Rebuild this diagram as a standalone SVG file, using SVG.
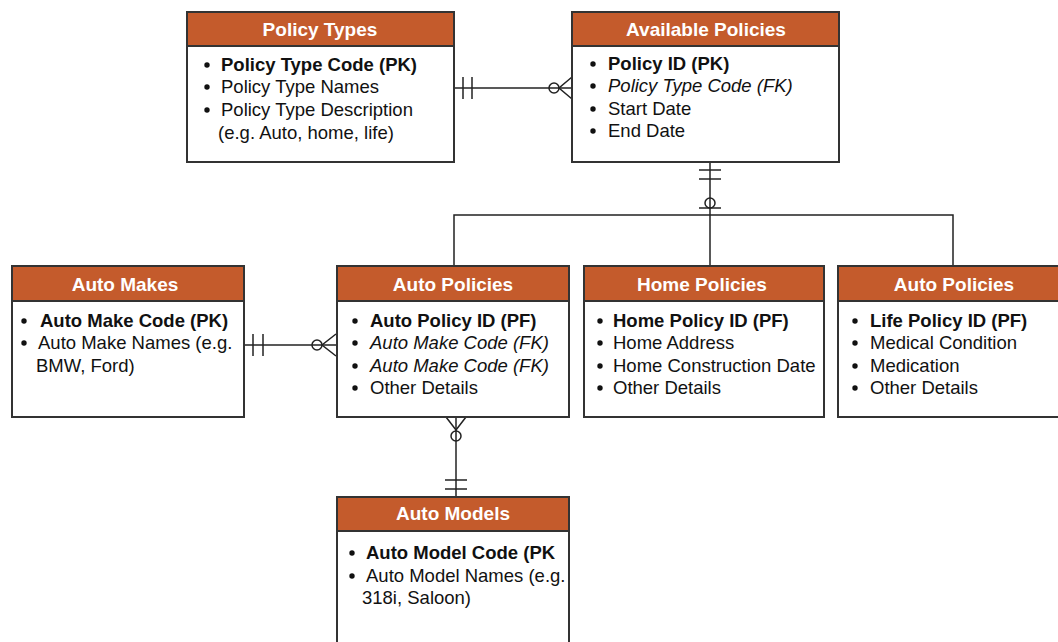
<svg xmlns="http://www.w3.org/2000/svg" width="1058" height="642" viewBox="0 0 1058 642">
<style>
.box{fill:#fff;stroke:#333;stroke-width:2}
.hdr{fill:#C45B2C;stroke:#333;stroke-width:2}
.ht{font-family:"Liberation Sans",Arial,sans-serif;font-size:19px;font-weight:bold;fill:#fff;text-anchor:middle}
.t{font-family:"Liberation Sans",Arial,sans-serif;font-size:18.5px;fill:#111}
.b{font-weight:bold}
.i{font-style:italic}
.bu{fill:#111}
.ln{fill:none;stroke:#222;stroke-width:1.5}
</style>
<defs>
  <circle id="dot" r="2.7"/>
</defs>
<g id="connectors">
  <line class="ln" x1="454" y1="88" x2="572" y2="88"/>
  <line class="ln" x1="463" y1="77" x2="463" y2="99"/>
  <line class="ln" x1="472" y1="77" x2="472" y2="99"/>
  <circle class="ln" cx="554" cy="88" r="5" fill="#fff"/>
  <path class="ln" d="M572 77 L559 88 L572 99"/>
  <line class="ln" x1="710" y1="162" x2="710" y2="266"/>
  <line class="ln" x1="699" y1="170" x2="721" y2="170"/>
  <line class="ln" x1="699" y1="179" x2="721" y2="179"/>
  <circle class="ln" cx="710" cy="203" r="5" fill="#fff"/>
  <line class="ln" x1="699" y1="208" x2="721" y2="208"/>
  <polyline class="ln" points="454,266 454,215 953,215 953,266"/>
  <line class="ln" x1="244" y1="345" x2="336" y2="345"/>
  <line class="ln" x1="253" y1="334" x2="253" y2="356"/>
  <line class="ln" x1="263" y1="334" x2="263" y2="356"/>
  <circle class="ln" cx="317" cy="345" r="5" fill="#fff"/>
  <path class="ln" d="M336 334 L322 345 L336 356"/>
  <line class="ln" x1="456" y1="417" x2="456" y2="497"/>
  <path class="ln" d="M446 417 L456 430 L466 417"/>
  <circle class="ln" cx="456" cy="436" r="5" fill="#fff"/>
  <line class="ln" x1="445" y1="480" x2="467" y2="480"/>
  <line class="ln" x1="445" y1="489" x2="467" y2="489"/>
</g>
<g id="policy-types">
  <rect class="box" x="187" y="12" width="267" height="150"/>
  <rect class="hdr" x="187" y="12" width="267" height="34"/>
  <text class="ht" x="320" y="36">Policy Types</text>
  <use href="#dot" class="bu" x="207" y="65"/><text class="t b" x="221" y="71">Policy Type Code (PK)</text>
  <use href="#dot" class="bu" x="207" y="87"/><text class="t" x="221" y="93">Policy Type Names</text>
  <use href="#dot" class="bu" x="207" y="110"/><text class="t" x="221" y="116">Policy Type Description</text>
  <text class="t" x="218" y="139">(e.g. Auto, home, life)</text>
</g>
<g id="available-policies">
  <rect class="box" x="572" y="12" width="267" height="150"/>
  <rect class="hdr" x="572" y="12" width="267" height="34"/>
  <text class="ht" x="706" y="36">Available Policies</text>
  <use href="#dot" class="bu" x="593" y="64"/><text class="t b" x="608" y="70">Policy ID (PK)</text>
  <use href="#dot" class="bu" x="593" y="86"/><text class="t i" x="608" y="92">Policy Type Code (FK)</text>
  <use href="#dot" class="bu" x="593" y="109"/><text class="t" x="608" y="115">Start Date</text>
  <use href="#dot" class="bu" x="593" y="131"/><text class="t" x="608" y="137">End Date</text>
</g>
<g id="auto-makes">
  <rect class="box" x="12" y="266" width="232" height="151"/>
  <rect class="hdr" x="12" y="266" width="232" height="35"/>
  <text class="ht" x="125" y="291">Auto Makes</text>
  <use href="#dot" class="bu" x="24" y="321"/><text class="t b" x="40" y="327">Auto Make Code (PK)</text>
  <use href="#dot" class="bu" x="24" y="343"/><text class="t" x="38" y="349">Auto Make Names (e.g.</text>
  <text class="t" x="36" y="372">BMW, Ford)</text>
</g>
<g id="auto-policies">
  <rect class="box" x="337" y="266" width="232" height="151"/>
  <rect class="hdr" x="337" y="266" width="232" height="35"/>
  <text class="ht" x="453" y="291">Auto Policies</text>
  <use href="#dot" class="bu" x="355" y="321"/><text class="t b" x="370" y="327">Auto Policy ID (PF)</text>
  <use href="#dot" class="bu" x="355" y="343"/><text class="t i" x="370" y="349">Auto Make Code (FK)</text>
  <use href="#dot" class="bu" x="355" y="366"/><text class="t i" x="370" y="372">Auto Make Code (FK)</text>
  <use href="#dot" class="bu" x="355" y="388"/><text class="t" x="370" y="394">Other Details</text>
</g>
<g id="home-policies">
  <rect class="box" x="584" y="266" width="240" height="151"/>
  <rect class="hdr" x="584" y="266" width="240" height="35"/>
  <text class="ht" x="702" y="291">Home Policies</text>
  <use href="#dot" class="bu" x="600" y="321"/><text class="t b" x="613" y="327">Home Policy ID (PF)</text>
  <use href="#dot" class="bu" x="600" y="343"/><text class="t" x="613" y="349">Home Address</text>
  <use href="#dot" class="bu" x="600" y="366"/><text class="t" x="613" y="372">Home Construction Date</text>
  <use href="#dot" class="bu" x="600" y="388"/><text class="t" x="613" y="394">Other Details</text>
</g>
<g id="life-policies">
  <rect class="box" x="838" y="266" width="232" height="151"/>
  <rect class="hdr" x="838" y="266" width="232" height="35"/>
  <text class="ht" x="954" y="291">Auto Policies</text>
  <use href="#dot" class="bu" x="855" y="321"/><text class="t b" x="870" y="327">Life Policy ID (PF)</text>
  <use href="#dot" class="bu" x="855" y="343"/><text class="t" x="870" y="349">Medical Condition</text>
  <use href="#dot" class="bu" x="855" y="366"/><text class="t" x="870" y="372">Medication</text>
  <use href="#dot" class="bu" x="855" y="388"/><text class="t" x="870" y="394">Other Details</text>
</g>
<g id="auto-models">
  <rect class="box" x="337" y="497" width="232" height="160"/>
  <rect class="hdr" x="337" y="497" width="232" height="34"/>
  <text class="ht" x="453" y="520">Auto Models</text>
  <use href="#dot" class="bu" x="352" y="553"/><text class="t b" x="366" y="559">Auto Model Code (PK</text>
  <use href="#dot" class="bu" x="352" y="576"/><text class="t" x="366" y="582">Auto Model Names (e.g.</text>
  <text class="t" x="362" y="604">318i, Saloon)</text>
</g>
</svg>
